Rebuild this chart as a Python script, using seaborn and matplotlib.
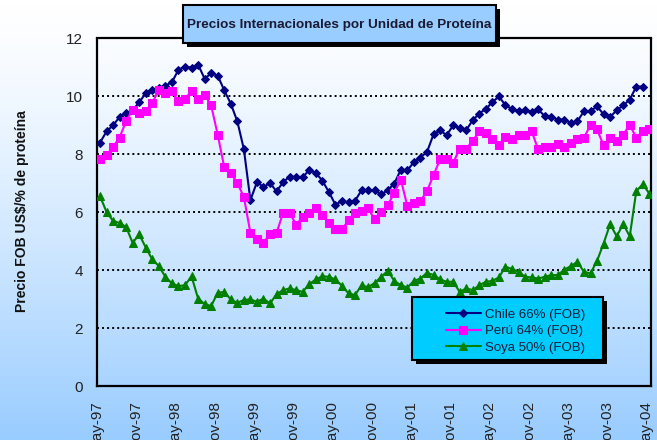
import numpy as np
import pandas as pd
import matplotlib
matplotlib.use('Agg')
import matplotlib.pyplot as plt
import seaborn as sns
from matplotlib.patches import Rectangle
from matplotlib.colors import LinearSegmentedColormap

# Precio FOB US$ por % de proteina, mensual desde May-97
chile = [8.40, 8.79, 9.00, 9.29, 9.43, 9.52, 9.80, 10.11, 10.23, 10.30,
         10.37, 10.49, 10.92, 11.03, 10.99, 11.10, 10.61, 10.80, 10.72, 10.21,
         9.75, 9.14, 8.18, 6.42, 7.04, 6.87, 7.01, 6.72, 7.04, 7.23,
         7.22, 7.22, 7.45, 7.36, 7.09, 6.70, 6.26, 6.39, 6.34, 6.40,
         6.76, 6.76, 6.76, 6.62, 6.76, 6.99, 7.47, 7.45, 7.73, 7.89,
         8.08, 8.69, 8.83, 8.66, 9.00, 8.90, 8.84, 9.18, 9.41, 9.57,
         9.80, 10.00, 9.69, 9.57, 9.49, 9.54, 9.46, 9.55, 9.32, 9.29,
         9.20, 9.20, 9.08, 9.14, 9.49, 9.49, 9.66, 9.38, 9.29, 9.52,
         9.69, 9.89, 10.34, 10.34]
peru = [7.85, 7.97, 8.25, 8.58, 9.15, 9.54, 9.42, 9.49, 9.77, 10.23,
        10.11, 10.18, 9.84, 9.92, 10.18, 9.90, 10.06, 9.69, 8.68, 7.56,
        7.36, 7.01, 6.53, 5.29, 5.09, 4.94, 5.26, 5.29, 5.98, 5.98,
        5.57, 5.84, 5.98, 6.13, 5.90, 5.63, 5.41, 5.41, 5.72, 5.97,
        6.05, 6.13, 5.76, 6.01, 6.24, 6.67, 7.13, 6.21, 6.32, 6.39,
        6.73, 7.28, 7.83, 7.83, 7.70, 8.20, 8.20, 8.46, 8.81, 8.73,
        8.52, 8.31, 8.60, 8.52, 8.66, 8.66, 8.80, 8.17, 8.25, 8.25,
        8.34, 8.25, 8.39, 8.54, 8.57, 9.02, 8.86, 8.31, 8.57, 8.45,
        8.68, 9.02, 8.57, 8.80, 8.89]
soya = [6.56, 6.01, 5.70, 5.63, 5.49, 4.94, 5.24, 4.78, 4.37, 4.14,
        3.77, 3.54, 3.45, 3.48, 3.79, 3.02, 2.83, 2.76, 3.22, 3.25,
        2.99, 2.87, 2.97, 2.99, 2.91, 3.02, 2.85, 3.17, 3.31, 3.37,
        3.31, 3.25, 3.52, 3.68, 3.79, 3.77, 3.68, 3.46, 3.20, 3.14,
        3.48, 3.41, 3.56, 3.77, 3.98, 3.63, 3.48, 3.40, 3.63, 3.71,
        3.91, 3.83, 3.68, 3.60, 3.60, 3.25, 3.37, 3.31, 3.48, 3.60,
        3.63, 3.75, 4.12, 4.04, 3.94, 3.77, 3.75, 3.71, 3.77, 3.83,
        3.83, 4.02, 4.14, 4.29, 3.94, 3.89, 4.32, 4.92, 5.59, 5.17,
        5.59, 5.17, 6.73, 6.97, 6.64]

tick_labels = ['May-97', 'Nov-97', 'May-98', 'Nov-98', 'May-99', 'Nov-99',
               'May-00', 'Nov-00', 'May-01', 'Nov-01', 'May-02', 'Nov-02',
               'May-03', 'Nov-03', 'May-04']

series = [
    ('Chile 66% (FOB)', chile, '#000080', 'D', 4),
    ('Perú 64% (FOB)', peru, '#ff00ff', 's', 5.5),
    ('Soya 50% (FOB)', soya, '#008000', '^', 5.5),
]

sns.set_style('white')
plt.rcParams['font.family'] = ['Liberation Sans Narrow', 'Liberation Sans', 'DejaVu Sans']

W, H = 657, 440
fig = plt.figure(figsize=(W / 100, H / 100), dpi=100)

# degradado de fondo blanco -> celeste
bg = fig.add_axes([0, 0, 1, 1], zorder=0)
grad = np.linspace(0, 1, 256)[:, None] ** 1.3
cmap = LinearSegmentedColormap.from_list('fondo', ['#ffffff', '#99ccff'])
bg.imshow(grad, aspect='auto', cmap=cmap, extent=[0, 1, 0, 1], origin='upper')
bg.axis('off')

ax = fig.add_axes([96.7 / W, 1 - 386 / H, (651 - 96.7) / W, (386 - 38.5) / H], zorder=1)
ax.patch.set_alpha(0)

for label, vals, color, mk, ms in series:
    df = pd.DataFrame({'mes': np.arange(len(vals)) + 0.5, 'precio': vals})
    sns.lineplot(data=df, x='mes', y='precio', ax=ax, color=color, marker=mk,
                 markersize=ms, markeredgecolor=color, linewidth=1.5, label=label,
                 zorder=3)

ax.set_xlim(0, 84.75)
ax.set_ylim(0, 12)
ax.set_yticks(range(0, 13, 2))
ax.set_xticks(range(0, 85, 6))
ax.set_xticklabels(tick_labels, rotation=90)
ax.set_xlabel('')
ax.set_ylabel('')
for y in range(2, 12, 2):
    ax.axhline(y, color='black', linestyle=(0, (1, 1.6)), linewidth=1.4, zorder=1)
for s in ax.spines.values():
    s.set_visible(True)
    s.set_color('black')
    s.set_linewidth(1.6)
ax.tick_params(direction='out', length=4, width=1.5, color='black', pad=6,
               labelsize=11, labelcolor='#222222')
ax.get_legend().remove()

# titulo en recuadro con sombra
tx0, ty0, tx1, ty1 = 182.7, 5, 496, 42.7
fig.add_artist(Rectangle(((tx0 + 4) / W, 1 - (ty1 + 4) / H), (tx1 - tx0) / W, (ty1 - ty0) / H,
                         transform=fig.transFigure, facecolor='black', edgecolor='none', zorder=5))
fig.add_artist(Rectangle((tx0 / W, 1 - ty1 / H), (tx1 - tx0) / W, (ty1 - ty0) / H,
                         transform=fig.transFigure, facecolor='#99ccff', edgecolor='black',
                         linewidth=1.5, zorder=6))
fig.text((tx0 + tx1) / 2 / W, 1 - 25 / H, 'Precios Internacionales por Unidad de Proteína',
         ha='center', va='center', fontsize=9.7, fontweight='bold', color='#1a1a33', zorder=7)

fig.text(21.7 / W, 1 - 210.7 / H, 'Precio FOB US$/% de proteína', rotation=90,
         ha='center', va='center', fontsize=10, fontweight='bold', color='#111111')

# leyenda en recuadro celeste con sombra
lx0, ly0, lx1, ly1 = 411.7, 297.3, 602.7, 360
fig.add_artist(Rectangle(((lx0 + 4) / W, 1 - (ly1 + 4) / H), (lx1 - lx0) / W, (ly1 - ly0) / H,
                         transform=fig.transFigure, facecolor='black', edgecolor='none', zorder=5))
fig.add_artist(Rectangle((lx0 / W, 1 - ly1 / H), (lx1 - lx0) / W, (ly1 - ly0) / H,
                         transform=fig.transFigure, facecolor='#00ccff', edgecolor='black',
                         linewidth=1.5, zorder=6))
handles, labels = ax.get_legend_handles_labels()
leg = fig.legend(handles, labels, loc='center left', bbox_to_anchor=(439 / W, 1 - 331 / H),
                 bbox_transform=fig.transFigure, frameon=False, fontsize=9.5,
                 handlelength=2.7, handletextpad=0.3, labelspacing=0.32, borderpad=0)
leg.set_zorder(7)
for t in leg.get_texts():
    t.set_color('#1a1a33')

fig.savefig('out.png', dpi=100)
